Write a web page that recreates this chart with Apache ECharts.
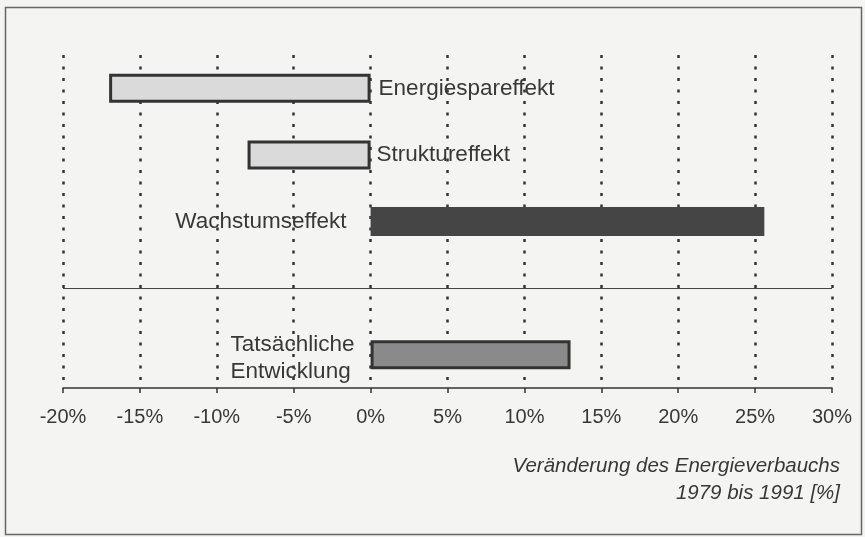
<!DOCTYPE html>
<html>
<head>
<meta charset="utf-8">
<script src="https://cdn.jsdelivr.net/npm/echarts@6/dist/echarts.min.js"></script>
<style>
html,body{margin:0;padding:0;background:#f4f4f2;}
#chart{width:865px;height:537px;}
</style>
</head>
<body>
<div id="chart"></div>
<script>
// Data
const categories = ['Energiespareffekt', 'Struktureffekt', 'Wachstumseffekt', '', 'Tatsächliche\nEntwicklung'];
const values = [-17, -8, 25.6, null, 13];
const xTicks = [-20, -15, -10, -5, 0, 5, 10, 15, 20, 25, 30];
const axisTitleLines = ['Veränderung des Energieverbauchs', '1979 bis 1991 [%]'];

const FONT = '"Liberation Sans", Arial, Helvetica, sans-serif';
const TEXT = '#383838';

const itemStyles = [
  { color: '#dadada', borderColor: '#333', borderWidth: 3 },
  { color: '#dadada', borderColor: '#333', borderWidth: 3 },
  { color: '#454545', borderColor: '#454545', borderWidth: 0 },
  {},
  { color: '#8a8a8a', borderColor: '#333', borderWidth: 3 }
];
const labelStyles = [
  { position: 'right', distance: 8 },
  { position: 'right', distance: 6 },
  { position: 'left', distance: 24 },
  {},
  { position: 'left', distance: 14, rich: true, offset: [0, 4] }
];

const seriesData = values.map((v, i) => {
  if (v === null) return '-';
  const ls = labelStyles[i];
  const label = {
    show: true,
    position: ls.position,
    distance: ls.distance,
    color: TEXT,
    fontFamily: FONT,
    fontSize: 22.5
  };
  if (ls.offset) label.offset = ls.offset;
  if (ls.rich) {
    const lines = categories[i].split('\n');
    label.formatter = lines.map(l => '{a|' + l + '}').join('\n');
    label.rich = { a: { width: 126, align: 'left', lineHeight: 27, fontSize: 22.5, fontFamily: FONT, color: TEXT } };
  } else {
    label.formatter = categories[i];
  }
  return { value: v, itemStyle: itemStyles[i], label: label };
});

const titleGraphics = axisTitleLines.map((line, i) => ({
  type: 'text',
  right: 25,
  top: 456 + i * 27,
  silent: true,
  style: {
    text: line,
    font: 'italic 20.5px ' + FONT,
    fill: TEXT
  }
}));

const chart = echarts.init(document.getElementById('chart'), null, { renderer: 'canvas' });
chart.setOption({
  backgroundColor: '#f4f4f2',
  animation: false,
  graphic: [{
    type: 'rect',
    shape: { x: 5.5, y: 7.5, width: 856, height: 527 },
    style: { fill: null, stroke: '#666', lineWidth: 1.5 },
    silent: true
  }].concat(titleGraphics),
  grid: { left: 63, right: 33, top: 55, bottom: 149, containLabel: false },
  xAxis: {
    type: 'value',
    min: xTicks[0],
    max: xTicks[xTicks.length - 1],
    interval: xTicks[1] - xTicks[0],
    axisLine: { show: true, onZero: false, lineStyle: { color: '#333', width: 1.5 } },
    axisTick: { show: true, length: 5, lineStyle: { color: '#333', width: 1.5 } },
    axisLabel: {
      formatter: v => v + '%',
      color: TEXT,
      fontFamily: FONT,
      fontSize: 20,
      margin: 19
    },
    splitLine: { show: true, lineStyle: { color: '#333', width: 2.5, type: [3, 8.5] } }
  },
  yAxis: {
    type: 'category',
    data: categories,
    inverse: true,
    axisLine: { show: false },
    axisTick: { show: false },
    axisLabel: { show: false },
    splitLine: { show: false }
  },
  series: [{
    type: 'bar',
    data: seriesData,
    barWidth: 29,
    markLine: {
      silent: true,
      symbol: 'none',
      label: { show: false },
      lineStyle: { color: '#444', width: 1.2, type: 'solid' },
      data: [{ yAxis: 3 }]
    }
  }]
});
</script>
</body>
</html>
